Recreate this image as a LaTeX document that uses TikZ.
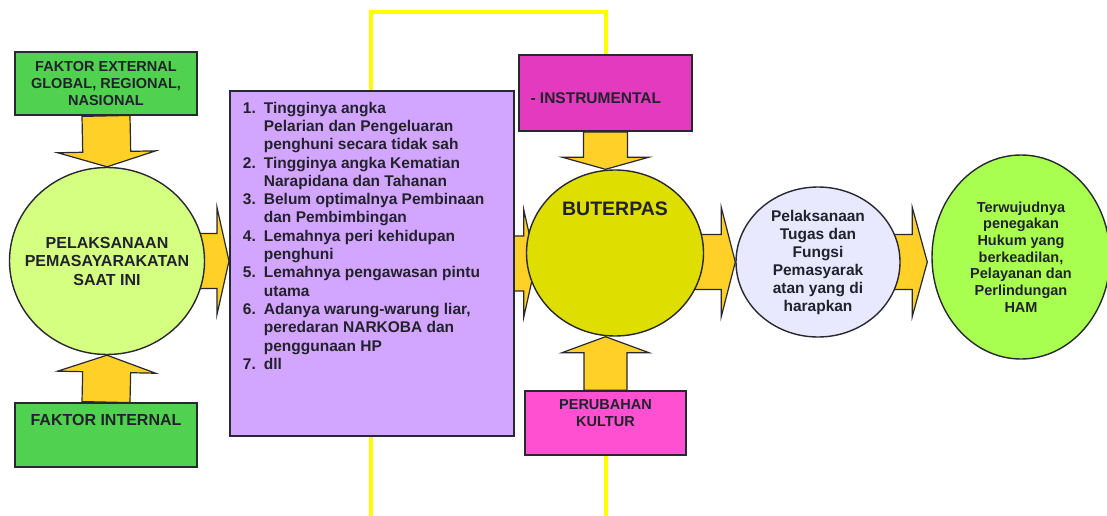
\documentclass[tikz,border=0pt]{standalone}
\usepackage{fontspec}
\setmainfont{Liberation Sans}
\usepackage{xcolor}
\usetikzlibrary{shapes.geometric, calc, backgrounds, positioning}

\definecolor{extgreen}{RGB}{80,210,80}
\definecolor{palegreen}{RGB}{212,255,128}
\definecolor{probpurple}{RGB}{210,165,255}
\definecolor{instrmagenta}{RGB}{228,58,192}
\definecolor{kulturpink}{RGB}{255,80,210}
\definecolor{butteryellow}{RGB}{222,222,0}
\definecolor{lavender}{RGB}{232,232,255}
\definecolor{limegreen}{RGB}{168,255,80}
\definecolor{arrowyellow}{RGB}{255,208,40}
\definecolor{edgegray}{RGB}{40,40,48}
\definecolor{textdark}{RGB}{34,34,44}
\definecolor{frameyellow}{RGB}{255,255,0}

\newcounter{probno}

% block arrow: tail, tip, shaft half width, head half width, head length
\newcommand{\bigarrow}[5]{%
    \coordinate (ba-h) at ($(#2)!#5!(#1)$);
    \draw[fatarrow] ($(#1)!#3!90:(#2)$) -- ($(ba-h)!#3!90:(#2)$) -- ($(ba-h)!#4!90:(#2)$) -- (#2)
        -- ($(ba-h)!#4!-90:(#2)$) -- ($(ba-h)!#3!-90:(#2)$) -- ($(#1)!#3!-90:(#2)$) -- cycle;
}

\begin{document}
\begin{tikzpicture}[
    x=1pt, y=-1pt,
    box/.style={rectangle, draw=edgegray, line width=1.8pt, fill=#1, inner sep=0pt, text=textdark},
    blob/.style={ellipse, draw=edgegray, line width=1.4pt, fill=#1, inner sep=-25pt, text=textdark},
    fatarrow/.style={draw=edgegray, line width=1.2pt, fill=arrowyellow, line join=miter},
    frameline/.style={draw=frameyellow, line width=4pt}
]
    \useasboundingbox (0,0) rectangle (1107,516);

    % Left column
    \node[box=extgreen, minimum width=182pt, minimum height=63pt, align=center,
          font=\bfseries\fontsize{14.5}{17}\selectfont] (extbox) at (106,83.5)
          {FAKTOR EXTERNAL\\GLOBAL, REGIONAL,\\NASIONAL};
    \node[blob=palegreen, minimum width=195pt, minimum height=187pt, align=center,
          font=\bfseries\fontsize{16}{18.5}\selectfont] (circA) at (107,261)
          {PELAKSANAAN\\PEMASAYARAKATAN\\SAAT INI};
    \node[box=extgreen, minimum width=182pt, minimum height=64pt, text height=22.7pt, text depth=41.3pt,
          font=\bfseries\fontsize{16}{18.5}\selectfont] (intbox) at (106,435)
          {FAKTOR INTERNAL};

    % Problem list
    \node[box=probpurple, minimum width=284pt, minimum height=345pt, inner xsep=12pt, anchor=north west,
          font=\bfseries\fontsize{15.5}{18.3}\selectfont] (problems) at (229,90) {%
        \begin{minipage}[t][345pt][t]{260pt}\raggedright\vspace*{11pt}
        \begin{list}{\arabic{probno}.}{\usecounter{probno}\setlength{\leftmargin}{22pt}%
            \setlength{\labelwidth}{14pt}\setlength{\labelsep}{8pt}\setlength{\itemsep}{0pt}%
            \setlength{\parsep}{0pt}\setlength{\topsep}{0pt}\setlength{\partopsep}{0pt}}
        \item Tingginya angka\\Pelarian dan Pengeluaran\\penghuni secara tidak sah
        \item Tingginya angka Kematian\\Narapidana dan Tahanan
        \item Belum optimalnya Pembinaan\\dan Pembimbingan
        \item Lemahnya peri kehidupan\\penghuni
        \item Lemahnya pengawasan pintu\\utama
        \item Adanya warung-warung liar,\\peredaran NARKOBA dan\\penggunaan HP
        \item dll
        \end{list}
        \end{minipage}};

    % Middle column
    \node[box=instrmagenta, minimum width=173pt, minimum height=76pt, text height=22pt, text depth=0pt,
          font=\bfseries\fontsize{15.5}{18}\selectfont] (instr) at (605.5,93)
          {\makebox[150pt][l]{- INSTRUMENTAL}};
    \node[blob=butteryellow, minimum width=177pt, minimum height=166pt, text depth=88pt,
          font=\bfseries\fontsize{19.5}{22}\selectfont] (butter) at (615,253) {BUTERPAS};
    \node[box=kulturpink, minimum width=161pt, minimum height=64pt,
          font=\bfseries\fontsize{14.5}{17}\selectfont] (kultur) at (605.5,423) {%
        \begin{minipage}[t][64pt][t]{161pt}\centering\vspace*{9pt}PERUBAHAN\\KULTUR\end{minipage}};

    % Right column
    \node[blob=lavender, minimum width=164pt, minimum height=150pt, align=center,
          font=\bfseries\fontsize{15.5}{18}\selectfont] (circC) at (818,262)
          {Pelaksanaan\\Tugas dan\\Fungsi\\Pemasyarak\\atan yang di\\harapkan};
    \node[blob=limegreen, minimum width=178pt, minimum height=204pt, align=center,
          font=\bfseries\fontsize{14.5}{16.7}\selectfont] (circD) at (1021,257)
          {Terwujudnya\\penegakan\\Hukum yang\\berkeadilan,\\Pelayanan dan\\Perlindungan\\HAM};

    \begin{pgfonlayer}{background}
        % Yellow frame
        \draw[frameline] (371,540) -- (371,12) -- (606,12) -- (606,540);

        % Arrows
        \coordinate (tipA) at (extbox.south -| circA.north);
        \coordinate (tipB) at (intbox.north -| circA.south);
        \coordinate (tipC) at (problems.west |- circA.center);
        \coordinate (tipD) at ($(butter.west |- problems.center)+(10,0)$);
        \coordinate (tipE) at (instr.south |- butter.north);
        \coordinate (tipF) at (kultur.north |- butter.south);
        \coordinate (tailG) at (butter.center |- circC.west);
        \coordinate (tipH) at ($(circD.west |- circC.center)+(-4,0)$);
        \bigarrow{extbox.south}{circA.north}{24pt}{49pt}{15pt}
        \bigarrow{intbox.north}{circA.south}{24pt}{49pt}{17pt}
        \bigarrow{circA.center}{tipC}{27.5pt}{53.5pt}{12pt}
        \bigarrow{problems.center}{tipD}{27.5pt}{53.5pt}{12pt}
        \bigarrow{instr.south}{tipE}{22pt}{43pt}{12pt}
        \bigarrow{kultur.north}{tipF}{21.5pt}{43.5pt}{16pt}
        \bigarrow{tailG}{circC.west}{27.5pt}{54.5pt}{14pt}
        \bigarrow{circC.center}{tipH}{27.5pt}{54.5pt}{15pt}
    \end{pgfonlayer}
\end{tikzpicture}
\end{document}
